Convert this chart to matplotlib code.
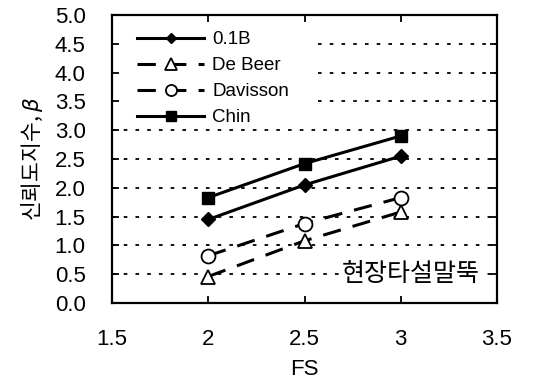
import matplotlib
matplotlib.use("Agg")
import matplotlib.pyplot as plt

fs = [2, 2.5, 3]
b01 = [1.45, 2.05, 2.55]
debeer = [0.46, 1.08, 1.58]
davisson = [0.82, 1.38, 1.83]
chin = [1.83, 2.42, 2.90]
xticks = [1.5, 2, 2.5, 3, 3.5]
xticklabels = ['1.5', '2', '2.5', '3', '3.5']
yticks = [0.0, 0.5, 1.0, 1.5, 2.0, 2.5, 3.0, 3.5, 4.0, 4.5, 5.0]

plt.rcParams['font.family'] = ['Liberation Sans', 'Noto Sans CJK KR', 'DejaVu Sans']

fig = plt.figure(figsize=(5.35, 3.85), dpi=100)
ax = fig.add_axes([112/535, 1-303/385, (497-112)/535, (303-15)/385])

for y in yticks[1:-1]:
    start = 0.535 if y > 3.0 else 0.0
    ax.axhline(y, xmin=start, color='black', linestyle=(0, (2, 4.5)),
               linewidth=1.3, zorder=0)

ax.plot(fs, b01, color='black', lw=2.2, marker='D', ms=7, mfc='black', label='0.1B')
ax.plot(fs, debeer, color='black', lw=2.2, ls=(0, (6, 4)), marker='^', ms=10,
        mfc='white', mec='black', mew=1.3, label='De Beer')
ax.plot(fs, davisson, color='black', lw=2.2, ls=(0, (6, 4)), marker='o', ms=10,
        mfc='white', mec='black', mew=1.3, label='Davisson')
ax.plot(fs, chin, color='black', lw=2.2, marker='s', ms=9, mfc='black', label='Chin')

ax.set_xlim(1.5, 3.5)
ax.set_ylim(0, 5)
ax.set_xticks(xticks)
ax.set_xticklabels(xticklabels)
ax.set_yticks(yticks)
ax.set_yticklabels([f'{v:.1f}' for v in yticks])
ax.tick_params(direction='in', length=5, width=1.3, top=True, right=True,
               labelsize=16)
ax.tick_params(axis='y', pad=19)
ax.tick_params(axis='x', pad=19)
for s in ax.spines.values():
    s.set_linewidth(1.6)

ax.set_xlabel('FS', fontsize=16, labelpad=6)
ax.set_ylabel('신뢰도지수, $\\beta$', fontsize=15.5, labelpad=7,
              family=['Noto Sans CJK KR'])

ax.text(0.956, 0.1, '현장타설말뚝', transform=ax.transAxes, ha='right',
        va='center', fontsize=18, family=['Noto Sans CJK KR'], zorder=1,
        bbox=dict(facecolor='white', edgecolor='none', pad=2))

leg = ax.legend(loc='upper left', bbox_to_anchor=(0.045, 0.97), frameon=False,
                fontsize=13.5, handlelength=3.6, borderaxespad=0.0,
                labelspacing=0.47, handletextpad=0.43, markerscale=0.8,
                borderpad=0.4)

fig.savefig('out.png', dpi=100)
